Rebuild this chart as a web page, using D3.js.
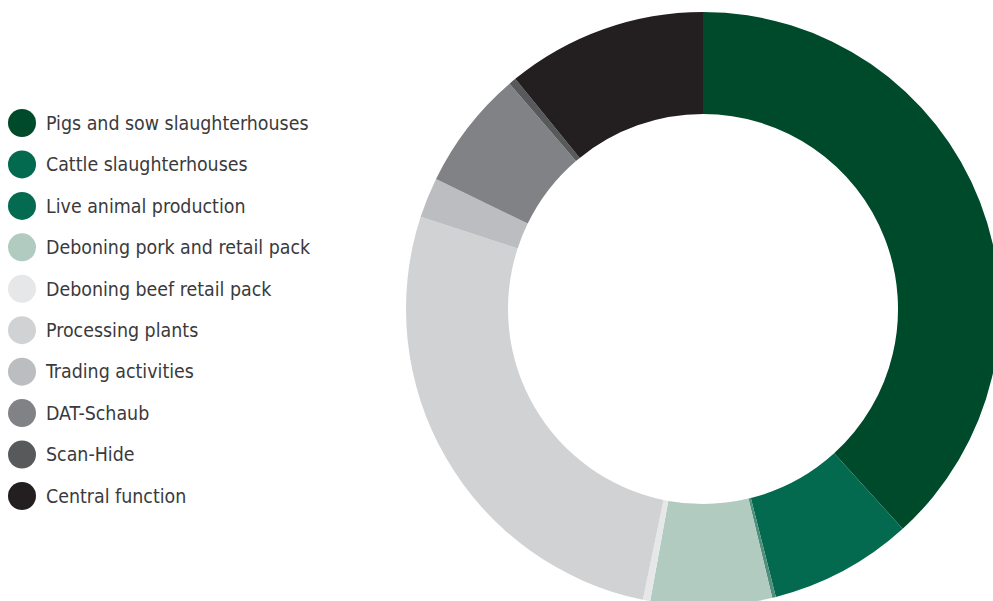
<!DOCTYPE html>
<html>
<head>
<meta charset="utf-8">
<script src="https://cdn.jsdelivr.net/npm/d3@7"></script>
<style>
  html, body { margin: 0; padding: 0; background: #fff; }
  svg { display: block; }
  .legend-label { font-family: "DejaVu Sans Condensed", "DejaVu Sans", sans-serif; font-size: 19.4px; fill: #3a3a3c; }
</style>
</head>
<body>
<svg id="chart" width="993" height="601"></svg>
<script>
// segment names, shares (percent) and colours
var categories = [
  'Pigs and sow slaughterhouses',
  'Cattle slaughterhouses',
  'Live animal production',
  'Deboning pork and retail pack',
  'Deboning beef retail pack',
  'Processing plants',
  'Trading activities',
  'DAT-Schaub',
  'Scan-Hide',
  'Central function'
];
var values = [38.3, 7.8, 0.2, 6.6, 0.4, 26.8, 2.2, 6.5, 0.4, 10.9];
var colors = ['#004a2c', '#036a50', '#046b51', '#b1cbc0', '#e6e7e8', '#d1d2d4', '#bcbdc0', '#808285', '#58595b', '#231f20'];
var sliverColors = ['#004a2c', '#036a50', '#4f8f7b', '#b1cbc0', '#e6e7e8', '#d1d2d4', '#bcbdc0', '#808285', '#58595b', '#231f20'];

var svg = d3.select('#chart');

var cx = 703, cy = 309, outerR = 297, innerR = 195;

var pie = d3.pie().sort(null).value(function(d) { return d; });
var arc = d3.arc().innerRadius(innerR).outerRadius(outerR);

var ring = svg.append('g')
  .attr('transform', 'translate(' + cx + ',' + cy + ')');

ring.selectAll('path')
  .data(pie(values))
  .enter().append('path')
  .attr('d', arc)
  .attr('fill', function(d, i) { return sliverColors[i]; });

// legend
var legendY = d3.scalePoint().domain(categories).range([123, 496]);

var legend = svg.append('g').attr('class', 'legend');
var rows = legend.selectAll('g')
  .data(categories)
  .enter().append('g')
  .attr('transform', function(d) { return 'translate(0,' + legendY(d) + ')'; });

rows.append('circle')
  .attr('cx', 22)
  .attr('cy', 0)
  .attr('r', 14)
  .attr('fill', function(d, i) { return colors[i]; });

rows.append('text')
  .attr('class', 'legend-label')
  .attr('x', 46)
  .attr('y', 0)
  .attr('dy', '0.35em')
  .text(function(d) { return d; });
</script>
</body>
</html>
